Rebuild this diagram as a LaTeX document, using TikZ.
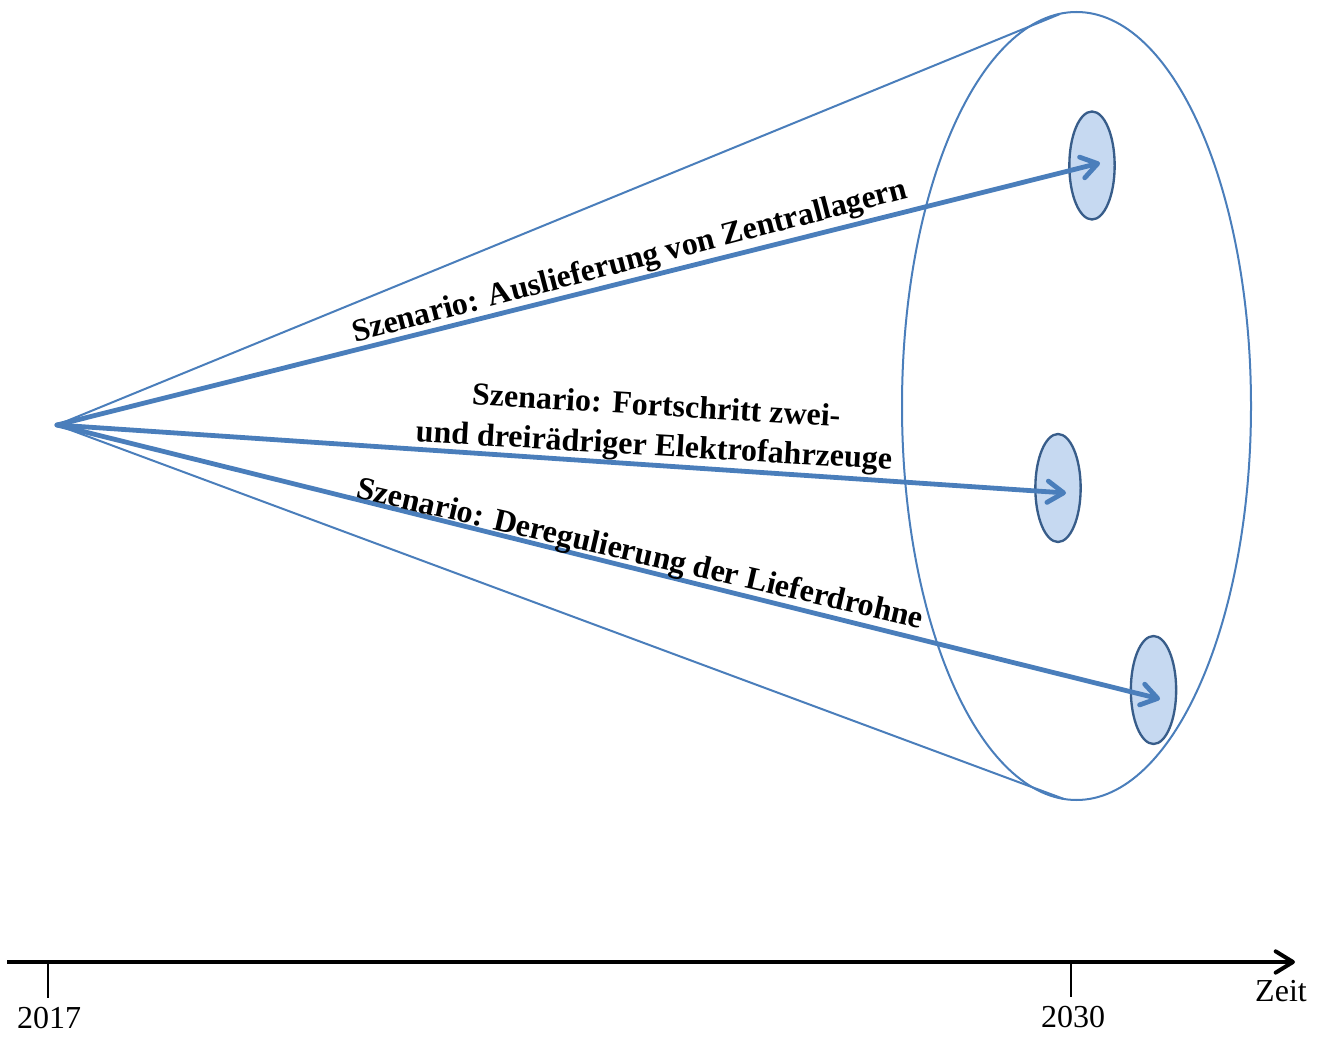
\documentclass[tikz,border=0pt]{standalone}
\usepackage{fontspec}
\setmainfont{Liberation Serif}
\usetikzlibrary{arrows.meta,shapes.geometric}
\definecolor{lineblue}{HTML}{4A7EBB}
\definecolor{fillblue}{HTML}{C6D9F1}
\definecolor{darkblue}{HTML}{385D8A}
\begin{document}
\begin{tikzpicture}[x=0.75pt,y=-0.75pt,
  coneline/.style={draw=lineblue, line width=1.5pt},
  scenarrow/.style={lineblue, line width=3.6pt, line cap=round,
    -{Straight Barb[length=12pt,width=16pt,round]}},
  outcome/.style={ellipse, draw=darkblue, fill=fillblue, line width=1.75pt,
    inner sep=0pt, minimum width=34pt, minimum height=81pt},
  lbl/.style={font=\fontsize{24}{30}\selectfont\bfseries, inner sep=0pt},
  axislabel/.style={font=\fontsize{24}{30}\selectfont, inner sep=0pt, anchor=base},
  axisline/.style={black, line width=3pt, -{Straight Barb[length=13pt,width=16pt,round]}},
  tick/.style={black, line width=1.5pt}]
\useasboundingbox (0,0) rectangle (1325,1037);

% cone
\coordinate (apex) at (57,425);
\coordinate (conetop) at (1060,14);
\coordinate (conebot) at (1064,799);
\draw[coneline] (apex) -- (conetop);
\draw[coneline] (apex) -- (conebot);
\node[ellipse, coneline, inner sep=0pt, minimum width=261.75pt, minimum height=591pt] (horizon) at (1076.5,406) {};

% outcomes
\node[outcome] (o1) at (1092,165.5) {};
\node[outcome] (o2) at (1058,488) {};
\node[outcome] (o3) at (1153.5,690) {};

% scenario arrows
\coordinate (tip1) at (1100,163);
\coordinate (tip2) at (1066,493);
\coordinate (tip3) at (1160,699);
\draw[scenarrow] (apex) -- (tip1);
\draw[scenarrow] (apex) -- (tip2);
\draw[scenarrow] (apex) -- (tip3);

% scenario labels
\node[lbl, anchor=base, rotate=14.6] (s1) at (632,270) {Szenario: Auslieferung von Zentrallagern};
\node[lbl, align=center, rotate=-3.4] (s2) at (655,428) {Szenario: Fortschritt zwei-\\und dreirädriger Elektrofahrzeuge};
\node[lbl, anchor=base, rotate=-13] (s3) at (638,563) {Szenario: Deregulierung der Lieferdrohne};

% time axis
\coordinate (tstart) at (7,962);
\coordinate (tend) at (1295,962);
\draw[axisline] (tstart) -- (tend);
\coordinate (t17) at (48,962);
\coordinate (t17b) at (48,998);
\coordinate (t30) at (1071,962);
\coordinate (t30b) at (1071,997);
\draw[tick] (t17) -- (t17b);
\draw[tick] (t30) -- (t30b);
\node[axislabel] (y2017) at (49,1028) {2017};
\node[axislabel] (y2030) at (1073,1027) {2030};
\node[axislabel] (zeit) at (1281,1001) {Zeit};
\end{tikzpicture}
\end{document}
